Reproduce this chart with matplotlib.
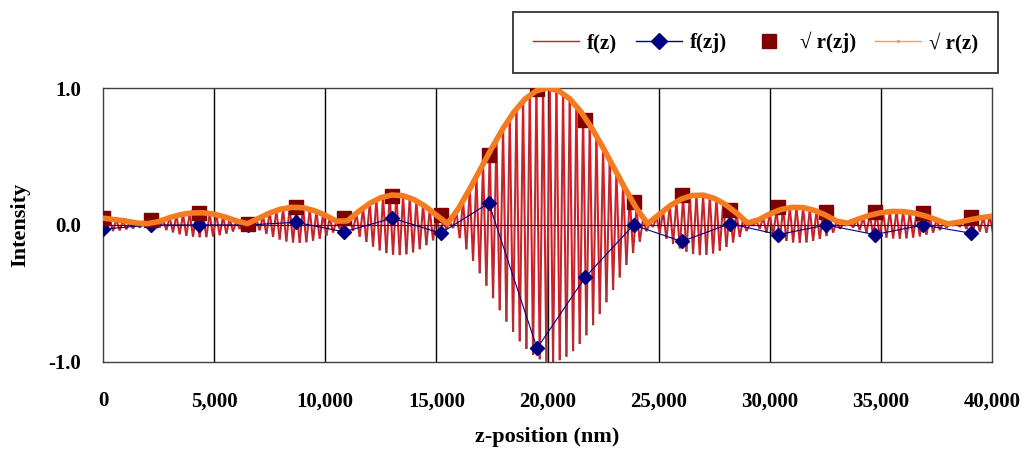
import numpy as np
import matplotlib
matplotlib.use("Agg")
import matplotlib.pyplot as plt
from matplotlib.collections import LineCollection
from matplotlib.lines import Line2D

plt.rcParams['font.family'] = ['Liberation Serif', 'DejaVu Serif']
plt.rcParams['font.weight'] = 'bold'

# f(z): amplitude of each oscillation period (one value every 300 nm)
f_step = 300
f_amp = [0.05, 0.045, 0.04, 0.033, 0.027, 0.02, 0.014, 0.01,
         0.019, 0.038, 0.054, 0.068, 0.079, 0.086, 0.09, 0.089, 0.084, 0.075, 0.063, 0.048, 0.03, 0.012,
         0.011, 0.039, 0.065, 0.088, 0.106, 0.12, 0.128, 0.13, 0.126, 0.115, 0.1, 0.079, 0.055, 0.028,
         0.005, 0.044, 0.086, 0.124, 0.158, 0.185, 0.205, 0.217, 0.22, 0.214, 0.2, 0.177, 0.147, 0.112, 0.072, 0.029,
         0.023, 0.096, 0.177, 0.263, 0.352, 0.443, 0.534, 0.622, 0.705, 0.781, 0.849, 0.905, 0.949, 0.98, 0.997,
         0.999, 0.987, 0.961, 0.921, 0.868, 0.805, 0.731, 0.65, 0.564, 0.474, 0.383, 0.292, 0.205, 0.122, 0.046,
         0.015, 0.059, 0.101, 0.139, 0.171, 0.195, 0.212, 0.22, 0.218, 0.207, 0.188, 0.161, 0.127, 0.088, 0.045,
         0.005, 0.029, 0.056, 0.081, 0.102, 0.117, 0.127, 0.13, 0.127, 0.117, 0.102, 0.081, 0.056, 0.029,
         0.005, 0.02, 0.038, 0.056, 0.071, 0.083, 0.092, 0.098, 0.1, 0.098, 0.092, 0.083, 0.071, 0.056, 0.038, 0.02,
         0.005, 0.015, 0.03, 0.038, 0.048, 0.057, 0.064]

# sqrt r(z): envelope, one value every 500 nm
r_step = 500
r_vals = [0.05, 0.04, 0.03, 0.015, 0.01, 0.025, 0.054, 0.076, 0.088, 0.089,
          0.079, 0.058, 0.03, 0.01, 0.048, 0.088, 0.116, 0.129, 0.126, 0.105,
          0.071, 0.028, 0.03, 0.099, 0.158, 0.2, 0.219, 0.214, 0.185, 0.136,
          0.072, 0.01, 0.122, 0.263, 0.414, 0.564, 0.705, 0.827, 0.921, 0.98,
          1.0, 0.98, 0.921, 0.827, 0.705, 0.564, 0.414, 0.263, 0.122, 0.01,
          0.074, 0.139, 0.188, 0.215, 0.218, 0.195, 0.15, 0.088, 0.015, 0.038,
          0.081, 0.113, 0.129, 0.127, 0.107, 0.073, 0.029, 0.013, 0.044, 0.071,
          0.09, 0.099, 0.098, 0.087, 0.066, 0.038, 0.008, 0.02, 0.038, 0.053, 0.065]

# sampled points zj
zj = [0, 2170, 4340, 6510, 8680, 10850, 13020, 15190, 17360, 19530,
      21700, 23870, 26040, 28210, 30380, 32550, 34720, 36890, 39060]
f_zj = [-0.03, 0.0, 0.0, 0.0, 0.02, -0.05, 0.05, -0.06, 0.16, -0.90,
        -0.38, 0.0, -0.12, 0.01, -0.07, 0.0, -0.07, 0.0, -0.06]
r_zj = [0.05, 0.04, 0.09, 0.01, 0.13, 0.05, 0.21, 0.07, 0.51, 0.99,
        0.77, 0.17, 0.22, 0.11, 0.13, 0.095, 0.095, 0.088, 0.06]

x_ticks = [0, 5000, 10000, 15000, 20000, 25000, 30000, 35000, 40000]
y_ticks = [-1.0, 0.0, 1.0]

fig = plt.figure(figsize=(10.26, 4.5), dpi=100)
ax = fig.add_axes([0.1004, 0.1956, 0.8665, 0.6088])

# f(z) as a zigzag: peak then trough for every period
zf = np.arange(len(f_amp)) * f_step
amp = np.array(f_amp)
xs = np.empty(2 * len(zf))
ys = np.empty(2 * len(zf))
xs[0::2] = zf
xs[1::2] = zf + f_step / 2
ys[0::2] = amp
ys[1::2] = -amp
pts = np.column_stack([xs, ys])
segs = np.stack([pts[:-1], pts[1:]], axis=1)
cols = ['#e8141c' if i % 2 == 0 else '#a8323a' for i in range(len(segs))]
ax.add_collection(LineCollection(segs, colors=cols, linewidths=1.5, zorder=2))

ax.plot(zj, f_zj, color='#000080', lw=0.8, marker='D', markersize=7, zorder=3)
ax.plot(zj, r_zj, ls='none', marker='s', color='#800000', markersize=10, zorder=4)
zr = np.arange(len(r_vals)) * r_step
ax.plot(zr, r_vals, color='#f47b20', lw=4.0, zorder=5, solid_capstyle='round')

ax.axhline(0, color='#3a1a1a', lw=0.8, zorder=2.5)
for xv in x_ticks[1:-1]:
    ax.axvline(xv, color='black', lw=1.0, zorder=1)

ax.set_xlim(0, 40000)
ax.set_ylim(-1, 1)
ax.set_xticks(x_ticks)
ax.set_xticklabels(['{:,}'.format(v) for v in x_ticks], fontsize=15, fontweight='bold')
ax.set_yticks(y_ticks)
ax.set_yticklabels(['{:.1f}'.format(v) for v in y_ticks], fontsize=15, fontweight='bold')
ax.tick_params(axis='x', length=0, pad=21)
ax.tick_params(axis='y', length=0, pad=16)
for sp in ax.spines.values():
    sp.set_color('#404040')
    sp.set_linewidth(1.0)

ax.set_xlabel('z-position (nm)', fontsize=16, fontweight='bold', va='center')
ax.xaxis.set_label_coords(0.5, -0.274)
ax.set_ylabel('Intensity', fontsize=16, fontweight='bold', va='center')
ax.yaxis.set_label_coords(-0.0934, 0.5)

handles = [
    Line2D([], [], color='#c0202a', lw=1.0),
    Line2D([], [], color='#000080', lw=1.0, marker='D', markersize=8),
    Line2D([], [], ls='none', marker='s', color='#800000', markersize=10),
    Line2D([], [], color='#f4a060', lw=1.0, marker='.', markersize=3),
]
labels = ['f(z)', 'f(zj)', '\u221a r(zj)', '\u221a r(z)']
leg = fig.legend(handles, labels, loc='lower left', ncol=4,
                 bbox_to_anchor=(0.5, 0.838, 0.4727, 0.14), mode='expand',
                 borderaxespad=0, fancybox=False, edgecolor='black',
                 prop={'size': 15, 'weight': 'bold'}, handlelength=2.2,
                 borderpad=0.95, columnspacing=1.0, handletextpad=0.4)
leg.get_frame().set_linewidth(1.3)

fig.savefig('out.png', dpi=100)
